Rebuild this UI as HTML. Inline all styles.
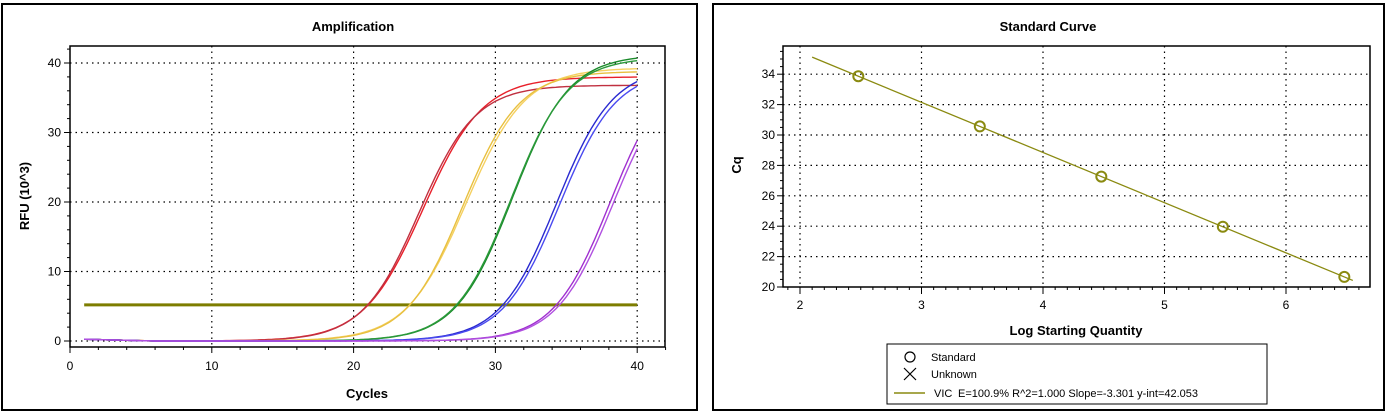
<!DOCTYPE html>
<html><head><meta charset="utf-8"><style>
body{margin:0;background:#fff;width:1390px;height:415px;overflow:hidden}
svg{display:block;font-family:"Liberation Sans",Arial,sans-serif}
</style></head><body>
<svg id="s" width="1390" height="415" viewBox="0 0 1390 415">
<rect x="2" y="4" width="695" height="406" fill="#fff" stroke="#000" stroke-width="2"/>
<rect x="713" y="4" width="671" height="406" fill="#fff" stroke="#000" stroke-width="2"/>
<text x="353" y="31" text-anchor="middle" font-size="13" font-weight="bold">Amplification</text>
<text x="1048" y="31" text-anchor="middle" font-size="13" font-weight="bold">Standard Curve</text>
<g id="g1"></g><g id="g2"></g>
<text x="367" y="398" text-anchor="middle" font-size="13" font-weight="bold">Cycles</text>
<text transform="translate(29,196) rotate(-90)" text-anchor="middle" font-size="13" font-weight="bold">RFU (10^3)</text>
<text x="1076" y="335" text-anchor="middle" font-size="13" font-weight="bold">Log Starting Quantity</text>
<text transform="translate(741,165) rotate(-90)" text-anchor="middle" font-size="13" font-weight="bold">Cq</text>
<rect x="887" y="344" width="380" height="60" fill="#fff" stroke="#000" stroke-width="1"/>
<circle cx="910" cy="357" r="5" fill="none" stroke="#000" stroke-width="1.2"/>
<text x="931" y="361" font-size="11">Standard</text>
<path d="M904 368 L916 380 M916 368 L904 380" stroke="#000" stroke-width="1.2"/>
<text x="931" y="378" font-size="11">Unknown</text>
<line x1="894" y1="393" x2="925" y2="393" stroke="#8a8a10" stroke-width="1.5"/>
<text x="934" y="397" font-size="11">VIC</text>
<text x="958" y="397" font-size="11">E=100.9% R^2=1.000 Slope=-3.301 y-int=42.053</text>
</svg>
<script>
var NS="http://www.w3.org/2000/svg";
function el(p,t,a,txt){var e=document.createElementNS(NS,t);for(var k in a)e.setAttribute(k,a[k]);if(txt!=null)e.textContent=txt;p.appendChild(e);return e;}
var g=document.getElementById("g1");
var L=70,R=665,T=46,B=347;
function X(c){return 70+c*14.18;} function Y(v){return 341-v*6.95;}
el(g,"rect",{x:L,y:T,width:R-L,height:B-T,fill:"#fff",stroke:"#000","stroke-width":1.5});
[10,20,30,40].forEach(function(c){el(g,"line",{x1:X(c),y1:T,x2:X(c),y2:B,stroke:"#000","stroke-width":1.2,"stroke-dasharray":"1.5,4"});});
[0,10,20,30,40].forEach(function(v){el(g,"line",{x1:L,y1:Y(v),x2:R,y2:Y(v),stroke:"#000","stroke-width":1.2,"stroke-dasharray":"1.5,4"});});
for(var c=0;c<=42;c+=2){var h=c%10==0?6:3;el(g,"line",{x1:X(c),y1:B,x2:X(c),y2:B+h,stroke:"#000"});}
for(var v=0;v<=42;v+=2){var h=v%10==0?6:3;el(g,"line",{x1:L-h,y1:Y(v),x2:L,y2:Y(v),stroke:"#000"});}
[0,10,20,30,40].forEach(function(c){el(g,"text",{x:X(c),y:370,"text-anchor":"middle","font-size":12},c);});
[0,10,20,30,40].forEach(function(v){el(g,"text",{x:L-9,y:Y(v)+4,"text-anchor":"end","font-size":12},v);});
el(g,"line",{x1:X(1),y1:Y(5.2),x2:X(40),y2:Y(5.2),stroke:"#7d7d00","stroke-width":3});
var curves=[["#e8202a",38,24.9,2.1],["#c03040",36.8,24.6,2.0],["#f5d060",39.3,27.9,2.1],["#e8c040",38.8,27.7,2.0],
["#1a8a2a",41.2,31.2,2.0],["#2a9a3a",40.8,31.1,2.0],["#2a2ad0",39.5,34.3,2.0],["#4a4af0",39,34.5,2.0],
["#a030d0",40,38.1,2.0],["#b050e0",39.5,38.3,2.0]];
curves.forEach(function(cv){var d="";for(var c=1;c<=40.001;c+=0.25){var f=cv[1]/(1+Math.exp(-(c-cv[2])/cv[3]));if(c<6)f+=0.25*(6-c)/5;d+=(d?"L":"M")+X(c).toFixed(1)+" "+Y(f).toFixed(1);}
el(g,"path",{d:d,fill:"none",stroke:cv[0],"stroke-width":1.4});});
g=document.getElementById("g2");
L=783;R=1370;T=46;B=287;
function X2(x){return 800+(x-2)*121.5;} function Y2(v){return 287-(v-20)*15.2;}
el(g,"rect",{x:L,y:T,width:R-L,height:B-T,fill:"#fff",stroke:"#000","stroke-width":1.5});
[2,3,4,5,6].forEach(function(x){el(g,"line",{x1:X2(x),y1:T,x2:X2(x),y2:B,stroke:"#000","stroke-width":1.2,"stroke-dasharray":"1.5,4"});});
[22,24,26,28,30,32,34].forEach(function(v){el(g,"line",{x1:L,y1:Y2(v),x2:R,y2:Y2(v),stroke:"#000","stroke-width":1.2,"stroke-dasharray":"1.5,4"});});
for(var x=1.9;x<=6.65;x+=0.1){var xi=Math.round(x*10);var h=xi%10==0?7:3;el(g,"line",{x1:X2(x),y1:B,x2:X2(x),y2:B+h,stroke:"#000"});}
for(var v=20;v<=35.5;v+=0.5){var h=(v%2==0)?6:3;el(g,"line",{x1:L-h,y1:Y2(v),x2:L,y2:Y2(v),stroke:"#000"});}
[2,3,4,5,6].forEach(function(x){el(g,"text",{x:X2(x),y:309,"text-anchor":"middle","font-size":12},x);});
[20,22,24,26,28,30,32,34].forEach(function(v){el(g,"text",{x:L-8,y:Y2(v)+4,"text-anchor":"end","font-size":12},v);});
function cq(x){return -3.301*x+42.053;}
el(g,"line",{x1:X2(2.1),y1:Y2(cq(2.1)),x2:X2(6.55),y2:Y2(cq(6.55)),stroke:"#8a8a10","stroke-width":1.3});
[2.48,3.48,4.48,5.48,6.48].forEach(function(x){el(g,"circle",{cx:X2(x),cy:Y2(cq(x)),r:5,fill:"none",stroke:"#8a8a10","stroke-width":2});});
</script>
</body></html>
